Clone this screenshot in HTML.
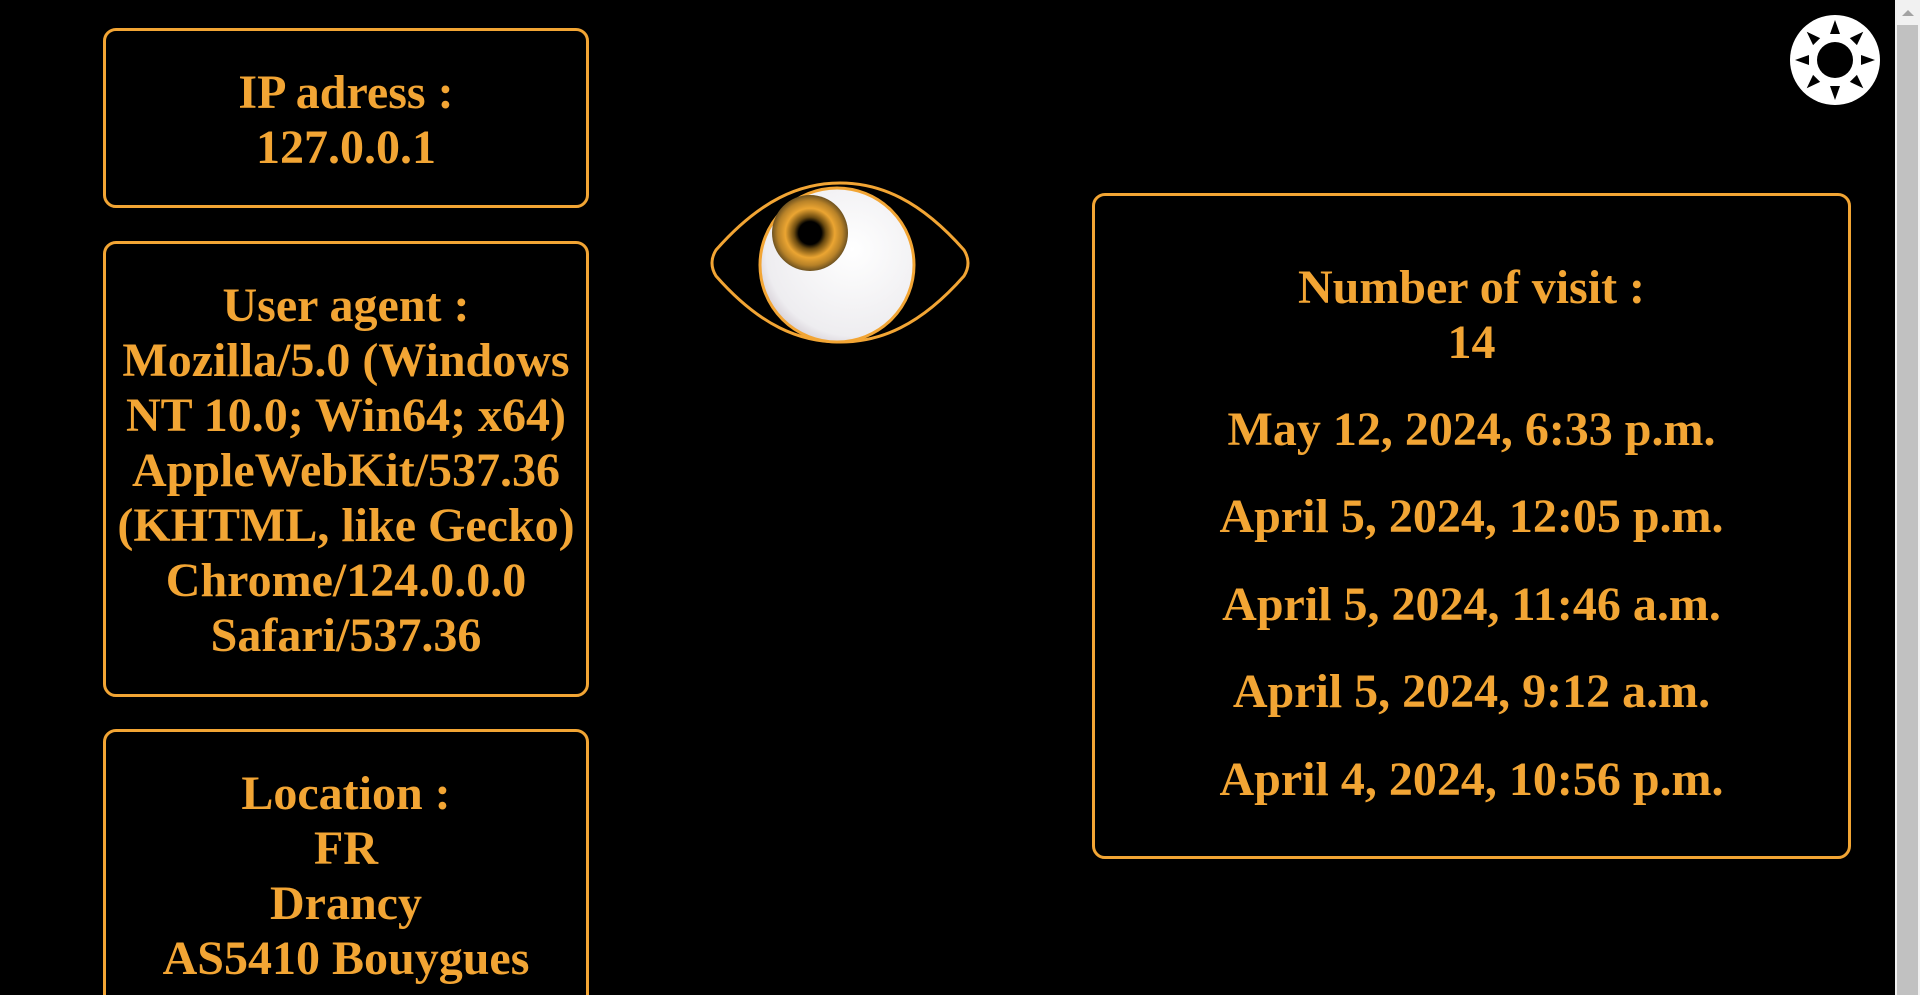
<!DOCTYPE html>
<html><head><meta charset="utf-8"><style>
html,body{margin:0;padding:0;background:#000;width:1920px;height:995px;overflow:hidden;font-family:"Liberation Serif",serif;}
#wrap{position:relative;width:1920px;height:995px;overflow:hidden;background:#000;}
.box{position:absolute;border:3px solid #f2a534;border-radius:13px;box-sizing:border-box;color:#f2a534;font-weight:bold;font-size:48px;line-height:55px;text-align:center;}
.line{position:absolute;left:0;right:0;text-align:center;white-space:nowrap;}
</style></head><body>
<div id="wrap">
<div class="box" style="left:103px;top:28px;width:486px;height:180px;">
 <div style="padding-top:34px">IP adress :<br>127.0.0.1</div></div>
<div class="box" style="left:103px;top:241px;width:486px;height:456px;">
 <div style="padding-top:34px">User agent :<br>Mozilla/5.0 (Windows<br>NT 10.0; Win64; x64)<br>AppleWebKit/537.36<br>(KHTML, like Gecko)<br>Chrome/124.0.0.0<br>Safari/537.36</div></div>
<div class="box" style="left:103px;top:729px;width:486px;height:320px;">
 <div style="padding-top:34px">Location :<br>FR<br>Drancy<br>AS5410 Bouygues<br>Telecom SA</div></div>
<div class="box" style="left:1092px;top:193px;width:759px;height:666px;">
 <div class="line" style="top:64px">Number of visit :</div>
 <div class="line" style="top:119px">14</div>
 <div class="line" style="top:206px">May 12, 2024, 6:33 p.m.</div>
 <div class="line" style="top:293px">April 5, 2024, 12:05 p.m.</div>
 <div class="line" style="top:381px">April 5, 2024, 11:46 a.m.</div>
 <div class="line" style="top:468px">April 5, 2024, 9:12 a.m.</div>
 <div class="line" style="top:556px">April 4, 2024, 10:56 p.m.</div>
</div>
<svg style="position:absolute;left:0;top:0" width="1920" height="995">
 <defs>
  <radialGradient id="ball" cx="0.6" cy="0.4" r="0.7"><stop offset="0" stop-color="#fff"/><stop offset="0.8" stop-color="#eeedf0"/><stop offset="1" stop-color="#c9bfc8"/></radialGradient>
  <radialGradient id="iris"><stop offset="0" stop-color="#000"/><stop offset="0.3" stop-color="#000"/><stop offset="0.42" stop-color="#6a4a10"/><stop offset="0.65" stop-color="#eba532"/><stop offset="0.85" stop-color="#b88228"/><stop offset="1" stop-color="#6e5220"/></radialGradient>
 </defs>
 <path d="M716,250 C760,200 800,183 840,183 C880,183 920,200 964,250 Q972,263 964,276 C920,326 880,342 840,342 C800,342 760,326 716,276 Q708,263 716,250 Z" fill="none" stroke="#f2a534" stroke-width="3"/>
 <circle cx="837" cy="265" r="77" fill="url(#ball)" stroke="#f2a534" stroke-width="3"/>
 <circle cx="810" cy="233" r="38" fill="url(#iris)"/>
</svg>
<svg style="position:absolute;left:1790px;top:15px" width="90" height="90" viewBox="-45 -45 90 90">
 <circle r="45" fill="#fff"/><circle r="18" fill="#000"/>
 <g fill="#000">
  <polygon points="-5,-26 5,-26 0,-40"/><polygon points="-5,-26 5,-26 0,-40" transform="rotate(90)"/>
  <polygon points="-5,-26 5,-26 0,-40" transform="rotate(180)"/><polygon points="-5,-26 5,-26 0,-40" transform="rotate(270)"/>
  <polygon points="-5,-26 5,-26 0,-40" transform="rotate(45)"/><polygon points="-5,-26 5,-26 0,-40" transform="rotate(135)"/>
  <polygon points="-5,-26 5,-26 0,-40" transform="rotate(225)"/><polygon points="-5,-26 5,-26 0,-40" transform="rotate(315)"/>
 </g>
</svg>
<div style="position:absolute;left:1895px;top:0;width:25px;height:995px;background:#f1f1f1;">
 <div style="position:absolute;left:7px;top:10px;width:0;height:0;border-left:6px solid transparent;border-right:6px solid transparent;border-bottom:6px solid #a3a3a3;"></div>
 <div style="position:absolute;left:2px;top:25px;width:21px;height:970px;background:#c1c1c1;"></div>
</div>
</div>
</body></html>
